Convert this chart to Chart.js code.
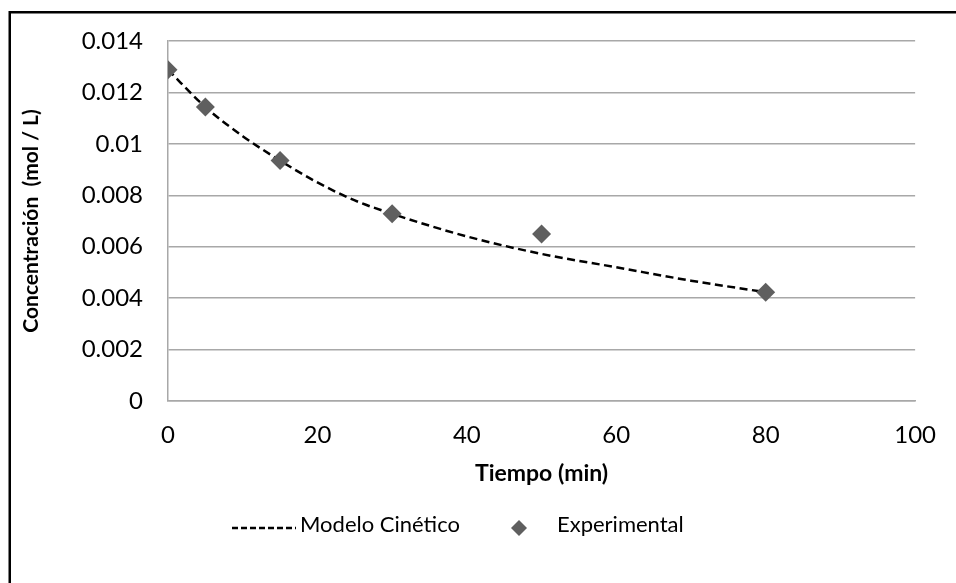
<!DOCTYPE html>
<html lang="es">
<head>
<meta charset="utf-8">
<title>Concentración vs Tiempo</title>
<script src="https://cdn.jsdelivr.net/npm/chart.js@4.4.1/dist/chart.umd.min.js"></script>
<style>
  html, body { margin: 0; padding: 0; background: #fff; }
  #wrap { position: relative; width: 956px; height: 583px; }
</style>
</head>
<body>
<div id="wrap"><canvas id="concChart" width="956" height="583"></canvas></div>
<script>
// datos experimentales
const tiempoExp = [0, 5, 15, 30, 50, 80];
const concExp = [0.01288, 0.01143, 0.00935, 0.00728, 0.00649, 0.00423];

// curva del modelo
const tiempoModelo = [0, 5, 10, 15, 20, 25, 30, 40, 50, 60, 70, 80];
const concModelo = [0.01288, 0.01143, 0.0103, 0.00935, 0.0085, 0.0078, 0.00728, 0.0064, 0.00572, 0.0052, 0.00468, 0.00423];

const xTicks = [0, 20, 40, 60, 80, 100];
const yTicks = [0, 0.002, 0.004, 0.006, 0.008, 0.01, 0.012, 0.014];
const yTickLabels = ['0', '0.002', '0.004', '0.006', '0.008', '0.01', '0.012', '0.014'];

const FONT = 'Lato, "Open Sans", sans-serif';
const GRID = '#a8a8a8';

const marco = {
  id: 'marco',
  beforeDraw(chart) {
    const c = chart.ctx;
    c.save();
    c.fillStyle = '#fff';
    c.fillRect(0, 0, chart.width, chart.height);
    c.fillStyle = '#000';
    c.fillRect(9, 11, chart.width - 9, 2.5);
    c.fillRect(8.5, 11, 2.5, chart.height - 11);
    c.restore();
  }
};

// leyenda estilo Excel debajo del eje
const leyenda = {
  id: 'leyenda',
  afterDraw(chart) {
    const c = chart.ctx;
    const y = 525;
    const dsLinea = chart.data.datasets[0];
    const dsPuntos = chart.data.datasets[1];
    c.save();
    c.font = '22px ' + FONT;
    c.textBaseline = 'middle';
    c.fillStyle = '#000';

    c.strokeStyle = dsLinea.borderColor;
    c.lineWidth = dsLinea.borderWidth;
    c.setLineDash([6, 3]);
    c.beginPath();
    c.moveTo(232, y + 3);
    c.lineTo(296, y + 3);
    c.stroke();
    c.setLineDash([]);
    c.fillText(dsLinea.label, 300, y);

    const cx = 519, cy = y + 3, r = 8;
    c.fillStyle = dsPuntos.backgroundColor;
    c.beginPath();
    c.moveTo(cx - r, cy);
    c.lineTo(cx, cy - r);
    c.lineTo(cx + r, cy);
    c.lineTo(cx, cy + r);
    c.closePath();
    c.fill();
    c.fillStyle = '#000';
    c.fillText(dsPuntos.label, 557, y);
    c.restore();
  }
};

const ctx = document.getElementById('concChart');
new Chart(ctx.getContext('2d'), {
  type: 'scatter',
  data: {
    datasets: [
      {
        label: 'Modelo Cinético',
        type: 'line',
        data: tiempoModelo.map((t, i) => ({ x: t, y: concModelo[i] })),
        borderColor: '#000',
        borderWidth: 2.5,
        borderDash: [8, 4.5],
        pointRadius: 0,
        fill: false,
        cubicInterpolationMode: 'monotone',
        order: 2
      },
      {
        label: 'Experimental',
        data: tiempoExp.map((t, i) => ({ x: t, y: concExp[i] })),
        pointStyle: 'rectRot',
        pointRadius: 9.5,
        pointHoverRadius: 9.5,
        backgroundColor: '#5f5f5f',
        borderColor: '#5f5f5f',
        borderWidth: 0,
        order: 1
      }
    ]
  },
  options: {
    responsive: false,
    devicePixelRatio: 1,
    animation: false,
    layout: { padding: { top: 41, right: 38, bottom: 0, left: 0 } },
    plugins: {
      legend: { display: false },
      tooltip: { enabled: false }
    },
    scales: {
      x: {
        type: 'linear',
        min: 0,
        max: 100,
        afterBuildTicks: s => { s.ticks = xTicks.map(v => ({ value: v })); },
        afterFit: s => { s.height = 182; },
        ticks: { color: '#000', font: { family: FONT, size: 24 }, padding: 20, maxRotation: 0 },
        grid: { display: false, drawTicks: false },
        border: { display: true, color: GRID, width: 1.5 },
        title: {
          display: true,
          text: 'Tiempo (min)',
          color: '#000',
          font: { family: FONT, size: 23, weight: 'bold' },
          padding: { top: 0, bottom: 96 }
        }
      },
      y: {
        min: 0,
        max: 0.014,
        afterBuildTicks: s => { s.ticks = yTicks.map(v => ({ value: v })); },
        afterFit: s => { s.width = 168; },
        ticks: {
          color: '#000',
          font: { family: FONT, size: 24 },
          padding: 25,
          callback: (v, i) => yTickLabels[i]
        },
        grid: { color: GRID, lineWidth: 1.5, drawTicks: false },
        border: { display: true, color: GRID, width: 1.5 },
        title: {
          display: true,
          text: 'Concentración  (mol / L)',
          color: '#000',
          font: { family: FONT, size: 21, weight: 'bold' },
          padding: { top: 19, bottom: 0 }
        }
      }
    }
  },
  plugins: [marco, leyenda]
});
</script>
</body>
</html>
